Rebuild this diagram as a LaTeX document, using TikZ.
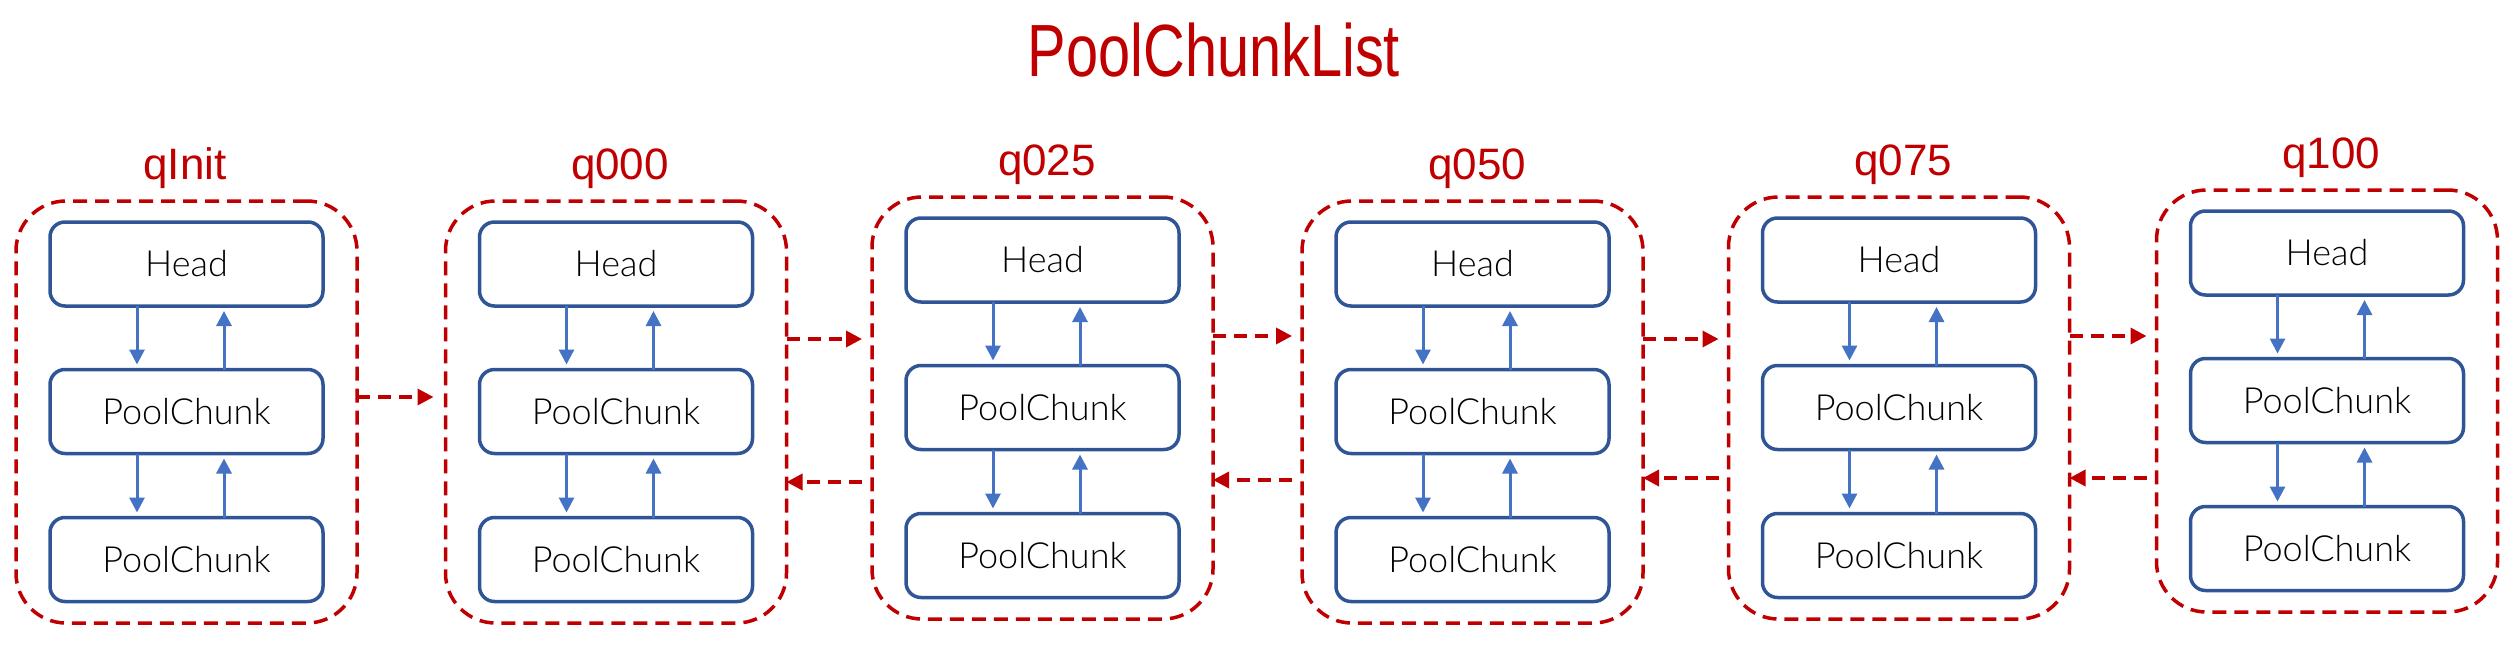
\documentclass[tikz,border=0pt]{standalone}
\usepackage{graphicx}
\usepackage{fontspec}
\setmainfont{Liberation Sans}
\newfontfamily\lightfont{Lato Light}
\usetikzlibrary{arrows.meta}
\definecolor{qred}{HTML}{C00000}
\definecolor{qbord}{HTML}{2F5597}
\definecolor{qblue}{HTML}{4472C4}
\begin{document}
\begin{tikzpicture}[x=1pt,y=-1pt,
  grp/.style={draw=qred, line width=3.5pt, dash pattern=on 14pt off 8pt, rounded corners=50pt,
    minimum width=341pt, minimum height=422pt, inner sep=0pt, outer sep=0pt},
  cbox/.style={draw=qbord, line width=3.5pt, rounded corners=15pt, minimum width=273pt,
    minimum height=84pt, inner sep=0pt, outer sep=0pt, text=black,
    font=\lightfont\fontsize{36}{42}\selectfont},
  qlab/.style={text=qred, font=\fontsize{44}{50}\selectfont, anchor=base, inner sep=0pt},
  barrow/.style={draw=qblue, line width=3pt, -{Triangle[width=15pt,length=15pt]}, shorten >=5pt},
  rarrow/.style={draw=qred, line width=3.5pt, dash pattern=on 13pt off 8pt,
    -{Triangle[width=16pt,length=16pt]}},
]
\useasboundingbox (0,0) rectangle (2520,650);
\node[text=qred, anchor=base, inner sep=0pt] (title) at (1214,76.5)
  {\scalebox{0.78}[1]{\fontsize{74}{80}\selectfont PoolChunkList}};
\foreach \n/\cx/\dy/\lx/\lab in {qi/186.5/0/185/qInit, q0/616/0/620/q000, q25/1042.5/-4/1047/q025,
  q50/1472.5/0/1477/q050, q75/1899/-4/1903/q075, q100/2327/-11/2331/q100}
{
  \node[grp] (\n-g) at (\cx,{412+(\dy)}) {};
  \node[qlab] (\n-l) at (\lx,{179.5+(\dy)}) {\lab};
  \node[cbox] (\n-h) at (\cx,{264+(\dy)}) {Head};
  \node[cbox] (\n-c1) at (\cx,{411.5+(\dy)}) {PoolChunk};
  \node[cbox] (\n-c2) at (\cx,{559.5+(\dy)}) {PoolChunk};
  \draw[barrow] ([xshift=-49.5pt]\n-h.south) -- ([xshift=-49.5pt]\n-c1.north);
  \draw[barrow] ([xshift=37.5pt]\n-c1.north) -- ([xshift=37.5pt]\n-h.south);
  \draw[barrow] ([xshift=-49.5pt]\n-c1.south) -- ([xshift=-49.5pt]\n-c2.north);
  \draw[barrow] ([xshift=37.5pt]\n-c2.north) -- ([xshift=37.5pt]\n-c1.south);
}
% forward (right) arrows
\draw[rarrow, shorten >=12pt] ([yshift=15pt]qi-g.east) coordinate (a1) -- (a1 -| q0-g.west);
\draw[rarrow, shorten >=10pt] ([yshift=73pt]q0-g.east) coordinate (a2) -- (a2 -| q25-g.west);
\draw[rarrow, shorten >=10pt] ([yshift=72pt]q25-g.east) coordinate (a3) -- (a3 -| q50-g.west);
\draw[rarrow, shorten >=10pt] ([yshift=73pt]q50-g.east) coordinate (a4) -- (a4 -| q75-g.west);
\draw[rarrow, shorten >=10pt] ([yshift=72pt]q75-g.east) coordinate (a5) -- (a5 -| q100-g.west);
% backward (left) arrows
\draw[rarrow, shorten <=10pt] ([yshift=-74pt]q25-g.west) coordinate (b1) -- (b1 -| q0-g.east);
\draw[rarrow, shorten <=10pt] ([yshift=-68pt]q50-g.west) coordinate (b2) -- (b2 -| q25-g.east);
\draw[rarrow, shorten <=10pt] ([yshift=-70pt]q75-g.west) coordinate (b3) -- (b3 -| q50-g.east);
\draw[rarrow, shorten <=10pt] ([yshift=-77pt]q100-g.west) coordinate (b4) -- (b4 -| q75-g.east);
\end{tikzpicture}
\end{document}
